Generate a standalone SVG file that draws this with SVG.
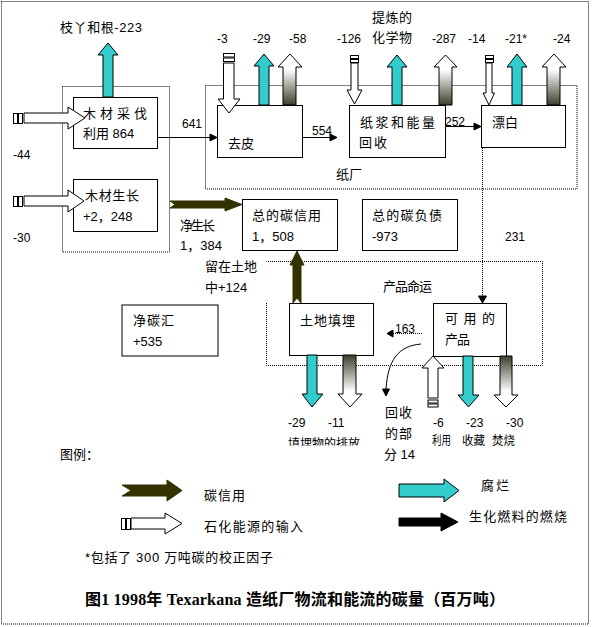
<svg xmlns="http://www.w3.org/2000/svg" width="592" height="627" viewBox="0 0 592 627">
<defs>
<style>
text{font-family:"Liberation Sans","Noto Sans CJK SC",sans-serif;font-size:13px;fill:#000}
.n{font-size:12px}
.s{font-size:12px}
.title{font-family:"Liberation Serif","Noto Sans CJK SC",serif;font-size:16px;font-weight:bold}
.box{fill:#fff;stroke:#000;stroke-width:1}
.dot{fill:none;stroke:#000;stroke-width:1;stroke-dasharray:1 1}
.teal{fill:#33CCCC;stroke:#000;stroke-width:1}
.gu{fill:url(#gUp);stroke:#000;stroke-width:1}
.gd{fill:url(#gDown);stroke:#000;stroke-width:1}
.fos{fill:#fff;stroke:#000;stroke-width:1}
.cred{fill:#333300;stroke:#333300;stroke-width:1}
.blk{fill:#000;stroke:#000}
.ln{fill:none;stroke:#000;stroke-width:1}
.dl{fill:none;stroke:#000;stroke-width:1;stroke-dasharray:1 1}
</style>
<linearGradient id="gUp" x1="0" y1="0" x2="0" y2="1">
<stop offset="0" stop-color="#fff"/><stop offset="0.3" stop-color="#fff"/><stop offset="1" stop-color="#3f3f2e"/>
</linearGradient>
<linearGradient id="gDown" x1="0" y1="0" x2="0" y2="1">
<stop offset="0" stop-color="#3f3f2e"/><stop offset="0.7" stop-color="#fff"/><stop offset="1" stop-color="#fff"/>
</linearGradient>
<clipPath id="cut"><rect x="280" y="420" width="100" height="25.5"/></clipPath>
</defs>
<rect width="592" height="627" fill="#fff"/>

<g id="containers">
<rect class="dot" x="1.5" y="1.5" width="587" height="622.5"/>
<rect class="dot" x="62.5" y="86.5" width="107" height="165.5"/>
<rect class="dot" x="205.5" y="85.5" width="371.5" height="103.5"/>
<path class="dot" d="M266.5,303 V365.5 H542.5 V261.5 H266.5"/>
<text x="336" y="179">纸厂</text>
<text x="383" y="291" textLength="49">产品命运</text>
</g>

<g id="n-harvest">
<rect class="box" x="73.5" y="97.5" width="84" height="51"/>
<text x="83" y="118" textLength="64">木材采伐</text>
<text x="83" y="138">利用 864</text>
</g>
<g id="n-growth">
<rect class="box" x="73.5" y="179.5" width="84" height="52"/>
<text x="85" y="200" textLength="54">木材生长</text>
<text x="83" y="221">+2，248</text>
</g>
<g id="n-debark">
<rect class="box" x="217.5" y="105.5" width="85" height="52"/>
<text x="228" y="148">去皮</text>
</g>
<g id="n-pulp">
<rect class="box" x="349.5" y="105.5" width="96" height="52"/>
<text x="360" y="127" textLength="75">纸浆和能量</text>
<text x="359" y="147" textLength="28">回收</text>
</g>
<g id="n-bleach">
<rect class="box" x="481.5" y="105.5" width="84" height="42"/>
<text x="492" y="127">漂白</text>
</g>
<g id="n-credit">
<rect class="box" x="242.5" y="199.5" width="95" height="51"/>
<text x="252" y="220" textLength="69">总的碳信用</text>
<text x="252" y="241">1，508</text>
</g>
<g id="n-debt">
<rect class="box" x="362.5" y="199.5" width="95" height="51"/>
<text x="372" y="220" textLength="70">总的碳负债</text>
<text x="372" y="241">-973</text>
</g>
<g id="n-landfill">
<rect class="box" x="289.5" y="303.5" width="84" height="52"/>
<text x="300" y="325" textLength="55">土地填埋</text>
</g>
<g id="n-products">
<rect class="box" x="433.5" y="303.5" width="73" height="53"/>
<text x="445" y="323" textLength="50">可 用 的</text>
<text x="445" y="344" textLength="25">产品</text>
</g>
<g id="n-sink">
<rect class="box" x="122" y="305" width="96" height="51" stroke-width="2"/>
<text x="133" y="325" textLength="41">净碳汇</text>
<text x="133" y="346">+535</text>
</g>

<g id="connectors">
<line class="ln" x1="157" y1="137.5" x2="211" y2="137.5"/>
<polygon class="blk" points="210,134 217,137.5 210,141"/>
<line class="ln" x1="302" y1="137.5" x2="331" y2="137.5"/>
<polygon class="blk" points="330,134 337,137.5 330,141"/>
<line class="ln" x1="445" y1="126.5" x2="475" y2="126.5"/>
<polygon class="blk" points="474,123 481,126.5 474,130"/>
<line class="dl" x1="482.5" y1="148" x2="482.5" y2="297"/>
<polygon class="blk" points="478.5,296 486.5,296 482.5,303"/>
<line class="dl" x1="422" y1="333.5" x2="393" y2="333.5"/>
<polygon class="blk" points="393,330 393,337 387,333.5"/>
<path class="ln" d="M421,344 C398,346 388,360 386,389"/>
<polygon class="blk" points="382.5,389 389.5,389 386,396"/>

<polygon class="cred" points="170,201 225,201 225,198 242,204.5 225,211 225,208 170,208 175,204.5"/>
<polygon class="cred" points="293,303 293,265 290,265 297,251 304,265 301,265 301,303 297,298"/>

<polygon class="teal" points="103,97 103,55 98,55 108,43 118,55 113,55 113,97"/>
<polygon class="teal" points="259,105 259,66 254,66 264,54 274,66 269,66 269,105"/>
<polygon class="teal" points="392,105 392,67 387,67 397,55 407,67 402,67 402,105"/>
<polygon class="teal" points="512,105 512,67 507,67 517,54 527,67 522,67 522,105"/>
<polygon class="teal" points="307,355 317,355 317,394 323,394 312,407 302,394 307,394"/>
<polygon class="teal" points="463,356 473,356 473,395 479,395 468.5,407 458,395 463,395"/>

<polygon class="gu" points="283,105 283,67 278,67 290,54 302,67 296,67 296,105"/>
<polygon class="gu" points="439,105 439,67 434,67 445.5,55 457,67 452,67 452,105"/>
<polygon class="gu" points="547,105 547,67 542,67 554,54 566,67 560,67 560,105"/>
<polygon class="gd" points="343,355 356,355 356,394 362,394 350,407 338,394 343,394"/>
<polygon class="gd" points="500,356 512,356 512,395 518,395 506,407 494,395 500,395"/>

<rect class="fos" x="13.5" y="113.5" width="4" height="10"/>
<rect class="fos" x="18.5" y="113.5" width="4" height="10"/>
<polygon class="fos" points="24,113 68,113 68,107 85,118 68,129 68,123 24,123"/>
<rect class="fos" x="13.5" y="196.5" width="4" height="10"/>
<rect class="fos" x="18.5" y="196.5" width="4" height="10"/>
<polygon class="fos" points="24,196 68,196 68,190 84,201 68,212 68,206 24,206"/>
<rect class="fos" x="223.5" y="53.5" width="11" height="3.5"/>
<rect class="fos" x="223.5" y="58" width="11" height="3.5"/>
<polygon class="fos" points="223.5,63 234,63 234,99 240,99 229,113 218,99 223.5,99"/>
<rect class="fos" x="350.5" y="55.5" width="8" height="3"/>
<rect class="fos" x="350.5" y="59.5" width="8" height="3"/>
<polygon class="fos" points="351,63 358,63 358,90 362,90 354.5,104 347,90 351,90"/>
<rect class="fos" x="485.5" y="55.5" width="8" height="3"/>
<rect class="fos" x="485.5" y="59.5" width="8" height="3"/>
<polygon class="fos" points="486,63 492,63 492,93 494.5,93 489,105 483,93 486,93"/>
<polygon class="fos" points="428,398 428,368 422,368 433,356 444,368 438,368 438,398"/>
<rect class="fos" x="428" y="400" width="10" height="3"/>
<rect class="fos" x="428" y="404" width="10" height="3"/>

<text x="60" y="32" textLength="82">枝丫和根-223</text>
<text class="n" x="217" y="43">-3</text>
<text class="n" x="253" y="43">-29</text>
<text class="n" x="289" y="43">-58</text>
<text class="n" x="337" y="43">-126</text>
<text x="372" y="22" textLength="40">提炼的</text>
<text x="372" y="42" textLength="40">化学物</text>
<text class="n" x="432" y="43">-287</text>
<text class="n" x="468" y="43">-14</text>
<text class="n" x="505" y="43">-21*</text>
<text class="n" x="553" y="43">-24</text>
<text class="n" x="182" y="128">641</text>
<text class="n" x="312" y="135">554</text>
<text class="n" x="445" y="126">252</text>
<text class="n" x="13" y="159">-44</text>
<text class="n" x="13" y="242">-30</text>
<text x="180" y="230" textLength="35">净生长</text>
<text x="180" y="250">1，384</text>
<text x="205" y="271" textLength="52">留在土地</text>
<text x="205" y="292">中+124</text>
<text class="n" x="505" y="241">231</text>
<text class="n" x="395" y="333">163</text>
<text x="385" y="417" textLength="27">回 收</text>
<text x="385" y="438" textLength="27">的 部</text>
<text x="384" y="459">分 14</text>
<text class="n" x="288" y="427">-29</text>
<text class="n" x="328" y="427">-11</text>
<text class="s" x="288" y="448" textLength="72" lengthAdjust="spacingAndGlyphs" clip-path="url(#cut)">填埋物的排放</text>
<text class="n" x="433" y="427">-6</text>
<text class="n" x="466" y="427">-23</text>
<text class="n" x="506" y="427">-30</text>
<text class="s" x="432" y="445" textLength="19" lengthAdjust="spacingAndGlyphs">利用</text>
<text class="s" x="462" y="445" textLength="23" lengthAdjust="spacingAndGlyphs">收藏</text>
<text class="s" x="492" y="445" textLength="23" lengthAdjust="spacingAndGlyphs">焚烧</text>
</g>

<g id="legend">
<text x="60" y="459">图例：</text>
<polygon class="cred" points="122,485 167,485 167,480 182,490.5 167,501 167,496 122,496 131,490.5"/>
<text x="204" y="500" textLength="41">碳信用</text>
<rect class="fos" x="121.5" y="518.5" width="4" height="11"/>
<rect class="fos" x="126.5" y="518.5" width="4" height="11"/>
<polygon class="fos" points="131,518 165,518 165,513 182,523.5 165,534 165,529 131,529"/>
<text x="204" y="531" textLength="99">石化能源的输入</text>
<polygon class="teal" points="399,484 444,484 444,479 459,490.5 444,502 444,497 399,497"/>
<text x="481" y="490" textLength="28">腐烂</text>
<polygon class="blk" points="399,518 441,518 441,513 458,522 441,531 441,526 399,526"/>
<text x="469" y="521" textLength="98">生化燃料的燃烧</text>
<text x="85" y="562" textLength="188">*包括了 300 万吨碳的校正因子</text>
<text class="title" x="85" y="605" textLength="420">图1 1998年 Texarkana 造纸厂物流和能流的碳量（百万吨）</text>
</g>
</svg>
